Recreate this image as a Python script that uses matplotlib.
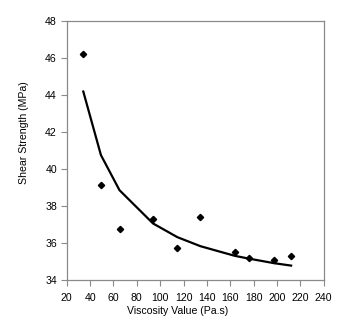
import matplotlib

matplotlib.use("Agg")
import matplotlib.pyplot as plt

plt.rcParams["font.family"] = ["Liberation Sans", "DejaVu Sans"]

# measured samples
viscosity = [34.2, 49.3, 65.2, 93.9, 114.7, 134.5, 163.8, 175.7, 197.6, 212.1]
shear = [46.25, 39.12, 36.76, 37.30, 35.75, 37.39, 35.53, 35.20, 35.08, 35.28]
# trend line values at the same viscosities
shear_fit = [44.20, 40.76, 38.86, 37.06, 36.32, 35.83, 35.31, 35.16, 34.91, 34.78]

x_ticks = list(range(20, 241, 20))
y_ticks = list(range(34, 49, 2))

fig = plt.figure(figsize=(3.52, 3.23), dpi=100)
ax = fig.add_axes([0.1895, 0.1331, 0.7301, 0.8009])

ax.plot(viscosity, shear_fit, color="black", lw=1.6, solid_joinstyle="round")
ax.plot(viscosity, shear, ls="none", marker="D", ms=3.2, color="black")

ax.set_xlim(20, 240)
ax.set_ylim(34, 48)
ax.set_xticks(x_ticks)
ax.set_yticks(y_ticks)

for side in ("left", "bottom", "top", "right"):
    ax.spines[side].set_color("#8a8a8a")
    ax.spines[side].set_linewidth(0.9)
ax.tick_params(axis="both", direction="out", length=4, width=0.8, color="#8a8a8a",
               labelsize=7.6, pad=3)
ax.tick_params(axis="x", pad=5)

ax.set_xlabel("Viscosity Value (Pa.s)", fontsize=7.6)
ax.set_ylabel("Shear Strength (MPa)", fontsize=7.6)
ax.xaxis.set_label_coords(0.43, -0.10)
ax.yaxis.set_label_coords(-0.148, 0.57)

fig.savefig("out.png", dpi=100)
